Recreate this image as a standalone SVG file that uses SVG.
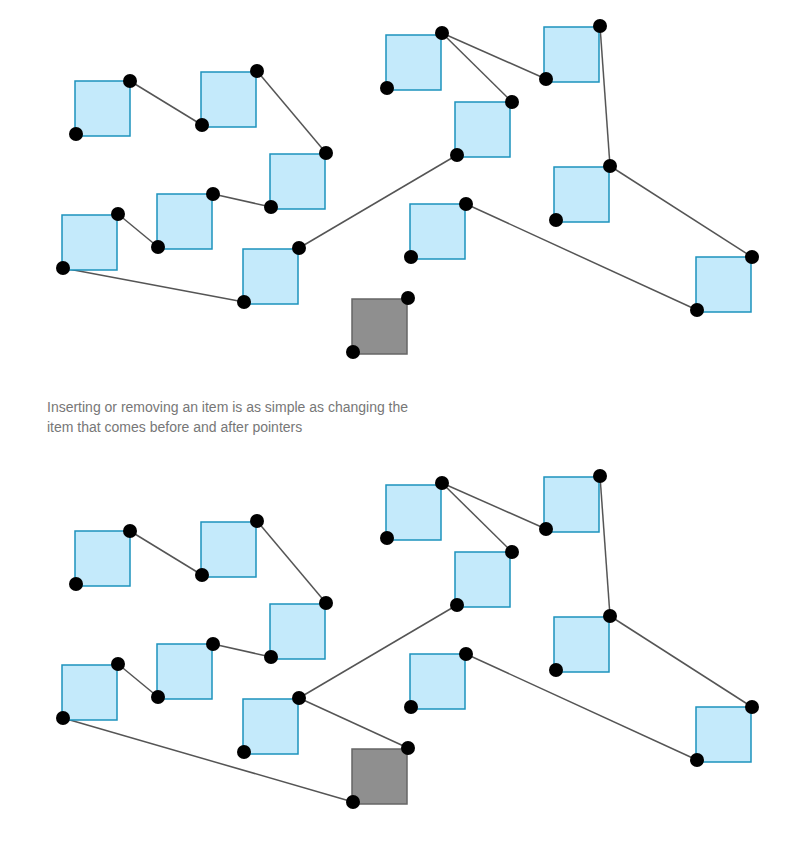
<svg xmlns="http://www.w3.org/2000/svg" width="800" height="865" viewBox="0 0 800 865">
<style>
.n{fill:#c4eafb;stroke:#1d93bd;stroke-width:1.5}
.g{fill:#8f8f8f;stroke:#666;stroke-width:1.5}
.d{fill:#000}
.e line{stroke:#555;stroke-width:1.5}
text{font-family:"Helvetica","Liberation Sans",Arial,sans-serif;font-size:14px;fill:#777}
</style>
<defs>
<g id="sq"><rect class="n" x="0" y="0" width="55" height="55"/></g>
</defs>
<rect width="800" height="865" fill="#fff"/>
<g id="top">
<g id="t-connectors" class="e">
<line x1="130" y1="81" x2="202" y2="125"/><line x1="257" y1="71" x2="326" y2="153"/>
<line x1="271" y1="207" x2="213" y2="194"/><line x1="118" y1="214" x2="158" y2="247"/>
<line x1="63" y1="268" x2="244" y2="302"/><line x1="299" y1="248" x2="457" y2="155"/>
<line x1="442" y1="33" x2="512" y2="102"/><line x1="442" y1="33" x2="546" y2="79"/>
<line x1="600" y1="26" x2="610" y2="166"/><line x1="610" y1="166" x2="752" y2="257"/>
<line x1="466" y1="204" x2="697" y2="310"/>
</g>
<g id="t1"><rect class="n" x="75" y="81" width="55" height="55"/><circle class="d" cx="130" cy="81" r="7"/><circle class="d" cx="76" cy="134" r="7"/></g>
<g id="t2"><rect class="n" x="201" y="72" width="55" height="55"/><circle class="d" cx="257" cy="71" r="7"/><circle class="d" cx="202" cy="125" r="7"/></g>
<g id="t3"><rect class="n" x="270" y="154" width="55" height="55"/><circle class="d" cx="326" cy="153" r="7"/><circle class="d" cx="271" cy="207" r="7"/></g>
<g id="t4"><rect class="n" x="157" y="194" width="55" height="55"/><circle class="d" cx="213" cy="194" r="7"/><circle class="d" cx="158" cy="247" r="7"/></g>
<g id="t5"><rect class="n" x="62" y="215" width="55" height="55"/><circle class="d" cx="118" cy="214" r="7"/><circle class="d" cx="63" cy="268" r="7"/></g>
<g id="t6"><rect class="n" x="243" y="249" width="55" height="55"/><circle class="d" cx="299" cy="248" r="7"/><circle class="d" cx="244" cy="302" r="7"/></g>
<g id="t7"><rect class="g" x="352" y="299" width="55" height="55"/><circle class="d" cx="408" cy="298" r="7"/><circle class="d" cx="353" cy="352" r="7"/></g>
<g id="t8"><rect class="n" x="386" y="35" width="55" height="55"/><circle class="d" cx="442" cy="33" r="7"/><circle class="d" cx="387" cy="88" r="7"/></g>
<g id="t9"><rect class="n" x="455" y="102" width="55" height="55"/><circle class="d" cx="512" cy="102" r="7"/><circle class="d" cx="457" cy="155" r="7"/></g>
<g id="t10"><rect class="n" x="544" y="27" width="55" height="55"/><circle class="d" cx="600" cy="26" r="7"/><circle class="d" cx="546" cy="79" r="7"/></g>
<g id="t11"><rect class="n" x="410" y="204" width="55" height="55"/><circle class="d" cx="466" cy="204" r="7"/><circle class="d" cx="411" cy="257" r="7"/></g>
<g id="t12"><rect class="n" x="554" y="167" width="55" height="55"/><circle class="d" cx="610" cy="166" r="7"/><circle class="d" cx="556" cy="220" r="7"/></g>
<g id="t13"><rect class="n" x="696" y="257" width="55" height="55"/><circle class="d" cx="752" cy="257" r="7"/><circle class="d" cx="697" cy="310" r="7"/></g>
</g>
<text x="47" y="412">Inserting or removing an item is as simple as changing the</text>
<text x="47" y="432">item that comes before and after pointers</text>
<g id="bottom" transform="translate(0,450)">
<g id="b-connectors" class="e">
<line x1="130" y1="81" x2="202" y2="125"/><line x1="257" y1="71" x2="326" y2="153"/>
<line x1="271" y1="207" x2="213" y2="194"/><line x1="118" y1="214" x2="158" y2="247"/>
<line x1="63" y1="268" x2="353" y2="352"/><line x1="299" y1="248" x2="457" y2="155"/>
<line x1="299" y1="248" x2="408" y2="298"/>
<line x1="442" y1="33" x2="512" y2="102"/><line x1="442" y1="33" x2="546" y2="79"/>
<line x1="600" y1="26" x2="610" y2="166"/><line x1="610" y1="166" x2="752" y2="257"/>
<line x1="466" y1="204" x2="697" y2="310"/>
</g>
<g id="b1"><rect class="n" x="75" y="81" width="55" height="55"/><circle class="d" cx="130" cy="81" r="7"/><circle class="d" cx="76" cy="134" r="7"/></g>
<g id="b2"><rect class="n" x="201" y="72" width="55" height="55"/><circle class="d" cx="257" cy="71" r="7"/><circle class="d" cx="202" cy="125" r="7"/></g>
<g id="b3"><rect class="n" x="270" y="154" width="55" height="55"/><circle class="d" cx="326" cy="153" r="7"/><circle class="d" cx="271" cy="207" r="7"/></g>
<g id="b4"><rect class="n" x="157" y="194" width="55" height="55"/><circle class="d" cx="213" cy="194" r="7"/><circle class="d" cx="158" cy="247" r="7"/></g>
<g id="b5"><rect class="n" x="62" y="215" width="55" height="55"/><circle class="d" cx="118" cy="214" r="7"/><circle class="d" cx="63" cy="268" r="7"/></g>
<g id="b6"><rect class="n" x="243" y="249" width="55" height="55"/><circle class="d" cx="299" cy="248" r="7"/><circle class="d" cx="244" cy="302" r="7"/></g>
<g id="b7"><rect class="g" x="352" y="299" width="55" height="55"/><circle class="d" cx="408" cy="298" r="7"/><circle class="d" cx="353" cy="352" r="7"/></g>
<g id="b8"><rect class="n" x="386" y="35" width="55" height="55"/><circle class="d" cx="442" cy="33" r="7"/><circle class="d" cx="387" cy="88" r="7"/></g>
<g id="b9"><rect class="n" x="455" y="102" width="55" height="55"/><circle class="d" cx="512" cy="102" r="7"/><circle class="d" cx="457" cy="155" r="7"/></g>
<g id="b10"><rect class="n" x="544" y="27" width="55" height="55"/><circle class="d" cx="600" cy="26" r="7"/><circle class="d" cx="546" cy="79" r="7"/></g>
<g id="b11"><rect class="n" x="410" y="204" width="55" height="55"/><circle class="d" cx="466" cy="204" r="7"/><circle class="d" cx="411" cy="257" r="7"/></g>
<g id="b12"><rect class="n" x="554" y="167" width="55" height="55"/><circle class="d" cx="610" cy="166" r="7"/><circle class="d" cx="556" cy="220" r="7"/></g>
<g id="b13"><rect class="n" x="696" y="257" width="55" height="55"/><circle class="d" cx="752" cy="257" r="7"/><circle class="d" cx="697" cy="310" r="7"/></g>
</g>
</svg>
